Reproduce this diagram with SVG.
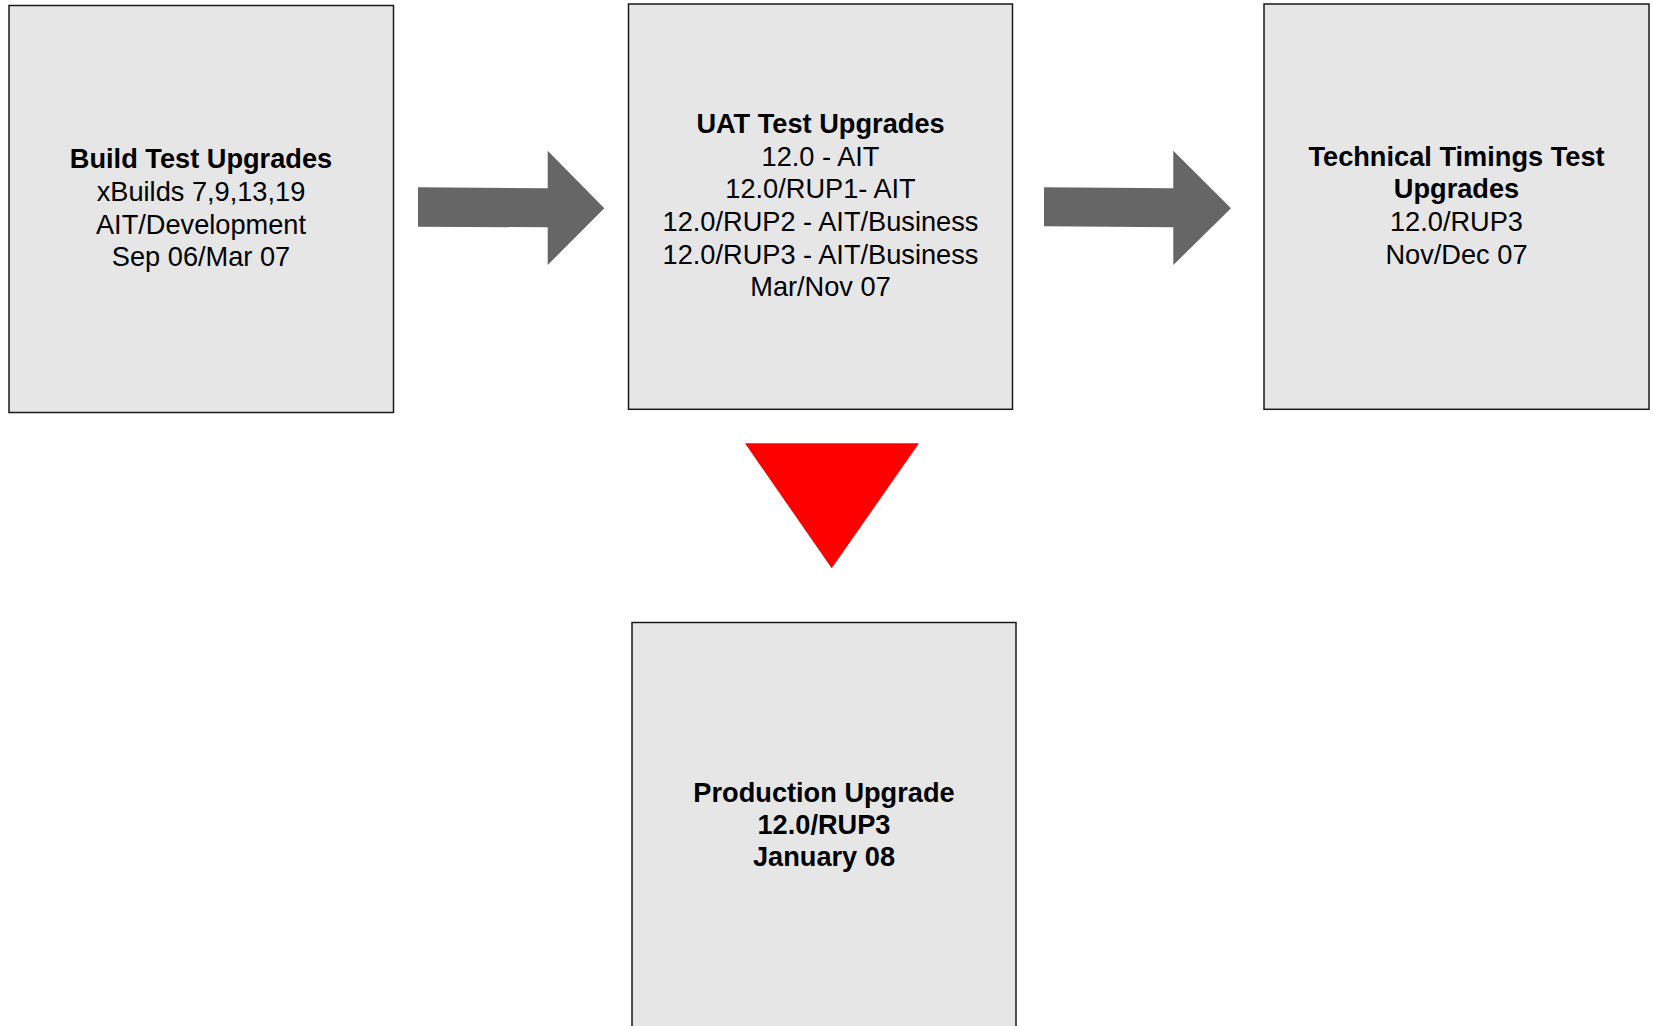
<svg xmlns="http://www.w3.org/2000/svg" width="1653" height="1026" viewBox="0 0 1653 1026">
<style>
.box{fill:#e6e6e6;stroke:#1a1a1a;stroke-width:1.5}
.arrow{fill:#666666}
.tri{fill:#ff0000}
text{font-family:"Liberation Sans",Arial,sans-serif;font-size:27.2px;fill:#000;text-anchor:middle}
.b{font-weight:bold}
</style>
<rect width="1653" height="1026" fill="#ffffff"/>
<g id="connectors">
<polygon class="arrow" points="418,187.3 547.7,188.3 547.7,150.7 604.3,208.3 547.7,265 547.7,227.3 418,226.7"/>
<polygon class="arrow" points="1044,187.3 1173.3,188.3 1173.3,150.7 1231,208.3 1173.3,265 1173.3,227.3 1044,226.3"/>
<polygon class="tri" points="745,443.3 919,443.3 831.7,568.3"/>
</g>
<g id="build">
<rect class="box" x="9" y="5.5" width="384.5" height="407"/>
<text x="201" y="168.3" class="b">Build Test Upgrades</text>
<text x="201" y="201">xBuilds 7,9,13,19</text>
<text x="201" y="233.5">AIT/Development</text>
<text x="201" y="266">Sep 06/Mar 07</text>
</g>
<g id="uat">
<rect class="box" x="628.5" y="4" width="384" height="405.3"/>
<text x="820.5" y="133.3" class="b">UAT Test Upgrades</text>
<text x="820.5" y="165.8">12.0 - AIT</text>
<text x="820.5" y="198.4">12.0/RUP1- AIT</text>
<text x="820.5" y="231">12.0/RUP2 - AIT/Business</text>
<text x="820.5" y="263.5">12.0/RUP3 - AIT/Business</text>
<text x="820.5" y="296">Mar/Nov 07</text>
</g>
<g id="technical">
<rect class="box" x="1264" y="4" width="385" height="405.3"/>
<text x="1456.5" y="165.7" class="b">Technical Timings Test</text>
<text x="1456.5" y="198.3" class="b">Upgrades</text>
<text x="1456.5" y="231">12.0/RUP3</text>
<text x="1456.5" y="263.5">Nov/Dec 07</text>
</g>
<g id="production">
<rect class="box" x="632" y="622.5" width="384" height="410"/>
<text x="824" y="801.7" class="b">Production Upgrade</text>
<text x="824" y="834" class="b">12.0/RUP3</text>
<text x="824" y="866.3" class="b">January 08</text>
</g>
</svg>
